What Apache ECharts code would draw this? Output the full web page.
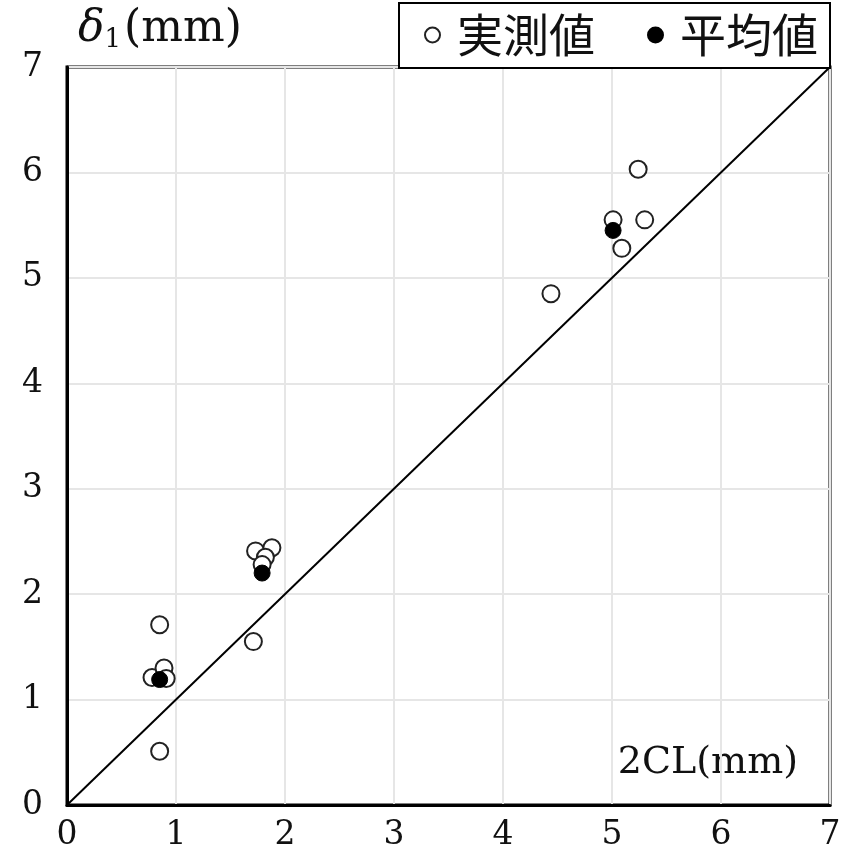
<!DOCTYPE html>
<html>
<head>
<meta charset="utf-8">
<script src="https://cdn.jsdelivr.net/npm/echarts@6/dist/echarts.min.js"></script>
<style>
  html, body { margin: 0; padding: 0; background: #fff; }
  #chart { width: 852px; height: 857px; }
</style>
</head>
<body>
<div id="chart"></div>
<script>
// 実測値 (2CL, δ1)
const measured = [
  [0.85, 1.71], [0.78, 1.21], [0.89, 1.30], [0.91, 1.20], [0.85, 0.51],
  [1.73, 2.41], [1.88, 2.44], [1.82, 2.35], [1.79, 2.28], [1.71, 1.55],
  [5.24, 6.03], [5.01, 5.55], [5.30, 5.55], [5.09, 5.28], [4.44, 4.85]
]
// 平均値
const average = [
  [0.85, 1.19], [1.79, 2.20], [5.01, 5.45]
]
// 1:1 線
const refLine = [[0, 0], [7, 7]]
const axisTicks = [0, 1, 2, 3, 4, 5, 6, 7]

const serif = 'DejaVu Serif'
const cjk = 'Noto Sans CJK JP'

const chart = echarts.init(document.getElementById('chart'))

chart.setOption({
  animation: false,
  grid: {
    left: 67,
    top: 67,
    right: 22,
    bottom: 52,
    show: true,
    borderColor: '#000',
    borderWidth: 3
  },
  legend: {
    data: ['実測値', '平均値'],
    right: 22,
    top: 3,
    orient: 'horizontal',
    backgroundColor: '#fff',
    borderColor: '#000',
    borderWidth: 2,
    padding: [9, 12, 10, 25],
    itemGap: 52,
    itemWidth: 15,
    itemHeight: 15,
    textStyle: {
      fontFamily: cjk,
      fontSize: 46,
      color: '#111',
      padding: [0, 0, 0, 12]
    }
  },
  xAxis: {
    type: 'value',
    min: axisTicks[0],
    max: axisTicks[axisTicks.length - 1],
    interval: 1,
    axisLine: { show: true, onZero: false, lineStyle: { color: '#000', width: 3 } },
    axisTick: { show: false },
    axisLabel: { fontFamily: serif, fontSize: 33, color: '#111', margin: 14 },
    splitLine: { show: true, lineStyle: { color: '#e6e6e6', width: 2 } }
  },
  yAxis: {
    type: 'value',
    min: axisTicks[0],
    max: axisTicks[axisTicks.length - 1],
    interval: 1,
    axisLine: { show: true, onZero: false, lineStyle: { color: '#000', width: 3 } },
    axisTick: { show: false },
    axisLabel: { fontFamily: serif, fontSize: 33, color: '#111', margin: 24 },
    splitLine: { show: true, lineStyle: { color: '#e6e6e6', width: 2 } }
  },
  graphic: [
    {
      type: 'text',
      left: 78,
      top: 8,
      style: {
        text: '{d|δ}{s|1}{t|(mm)}',
        rich: {
          d: { fontFamily: serif, fontStyle: 'italic', fontSize: 44, fill: '#111' },
          s: { fontFamily: serif, fontSize: 26, fill: '#111', verticalAlign: 'bottom', padding: [20, 3, 0, 0] },
          t: { fontFamily: serif, fontSize: 44, fill: '#111' }
        }
      }
    },
    {
      type: 'text',
      right: 54,
      top: 744,
      style: {
        text: '2CL(mm)',
        fontFamily: serif,
        fontSize: 38,
        fill: '#111'
      }
    }
  ],
  series: [
    {
      name: '1:1',
      type: 'line',
      data: refLine,
      symbol: 'none',
      silent: true,
      lineStyle: { color: '#000', width: 2 },
      z: 1
    },
    {
      name: '実測値',
      type: 'scatter',
      data: measured,
      symbol: 'circle',
      symbolSize: 17,
      itemStyle: { color: '#fff', borderColor: '#222', borderWidth: 2, opacity: 1 },
      z: 2
    },
    {
      name: '平均値',
      type: 'scatter',
      data: average,
      symbol: 'circle',
      symbolSize: 16,
      itemStyle: { color: '#000', borderColor: '#000', borderWidth: 1, opacity: 1 },
      z: 3
    }
  ]
})
</script>
</body>
</html>
